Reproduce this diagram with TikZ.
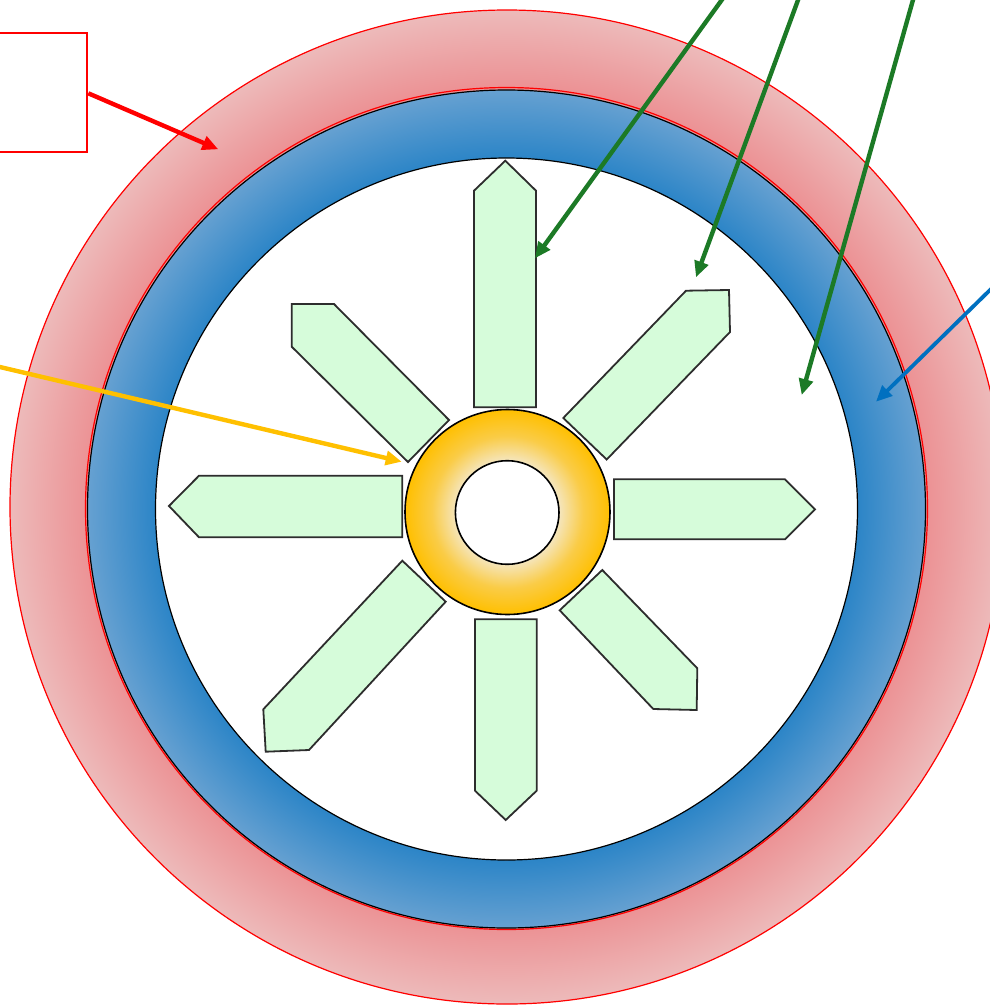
\documentclass[tikz,border=0pt]{standalone}
\usetikzlibrary{arrows.meta}
\pgfdeclareradialshading{redring}{\pgfpoint{0bp}{0bp}}{rgb(0bp)=(0.925,0.57,0.58);rgb(21.1bp)=(0.925,0.57,0.58);rgb(25bp)=(0.93,0.73,0.73);rgb(50bp)=(0.93,0.73,0.73)}
\pgfdeclareradialshading{bluering}{\pgfpoint{0bp}{0bp}}{rgb(0bp)=(0.17,0.52,0.78);rgb(20.9bp)=(0.17,0.52,0.78);rgb(25bp)=(0.40,0.63,0.82);rgb(50bp)=(0.40,0.63,0.82)}
\pgfdeclareradialshading{goldring}{\pgfpoint{0bp}{0bp}}{rgb(0bp)=(0.96,0.9,0.74);rgb(12.6bp)=(0.96,0.9,0.74);rgb(18.5bp)=(0.98,0.8,0.28);rgb(25bp)=(1,0.75,0.0);rgb(50bp)=(1,0.75,0.0)}
\definecolor{spokefill}{RGB}{214,252,218}
\definecolor{spokeline}{RGB}{45,45,45}
\definecolor{arrgreen}{RGB}{28,122,38}
\definecolor{arrblue}{RGB}{0,112,192}
\definecolor{arryellow}{RGB}{255,192,0}
\tikzset{
  spoke/.style={draw=spokeline, fill=spokefill, line width=1.8pt, line join=miter},
  ptr/.style={-{Triangle[length=16pt,width=14pt]}, line width=4.4pt},
  redbox/.style={draw=red, line width=2pt, minimum width=97pt, minimum height=119pt, inner sep=0pt}
}
\begin{document}
\begin{tikzpicture}[x=1pt,y=-1pt]
\useasboundingbox (0,0) rectangle (990,1005);
\clip (0,0) rectangle (990,1005);
% red ring
\shade[shading=redring] (507,507) circle[radius=497pt];
\draw[red, line width=1.2pt] (507,507) circle[radius=497pt];
\draw[red, line width=1.2pt] (506.5,508.5) circle[radius=421pt];
% blue ring
\shade[shading=bluering] (506.5,509) circle[radius=419pt];
\draw[black, line width=1.2pt] (506.5,509) circle[radius=419pt];
% white interior
\fill[white] (506.5,509) circle[radius=351pt];
\draw[black, line width=1.2pt] (506.5,509) circle[radius=351pt];
% spokes
\draw[spoke] (474,407.3) -- (474,190.7) -- (505.3,160.7) -- (536,190.7) -- (536,407.3) -- cycle;
\draw[spoke] (475,619.3) -- (536.7,619.3) -- (536.7,790.7) -- (505.7,820) -- (475,790.7) -- cycle;
\draw[spoke] (402.3,475.7) -- (199,475.7) -- (169,506) -- (199,537.3) -- (402.3,537.3) -- cycle;
\draw[spoke] (614,479.3) -- (785,479.3) -- (815,509.3) -- (785,539.3) -- (614,539.3) -- cycle;
\draw[spoke] (449,420) -- (334,304) -- (291.7,304) -- (291.7,346.7) -- (408,462) -- cycle;
\draw[spoke] (563.3,418) -- (686,290.7) -- (729,290) -- (730,332) -- (606.7,459.5) -- cycle;
\draw[spoke] (402.3,560.7) -- (445.7,601.7) -- (309,750) -- (265.7,751.7) -- (263.3,709.3) -- cycle;
\draw[spoke] (559.7,610.3) -- (602.3,570) -- (697.3,668.3) -- (696.7,710) -- (653.3,709) -- cycle;
% hub
\shade[shading=goldring] (507.5,512) circle[radius=102.5pt];
\draw[black, line width=1.6pt] (507.5,512) circle[radius=102.5pt];
\fill[white] (507.2,512.5) circle[radius=51.8pt];
\draw[black, line width=1.6pt] (507.2,512.5) circle[radius=51.8pt];
% label box and arrows
\node[redbox] (box) at (38.8,92) {};
\coordinate (redtip) at (218.3,149.3);
\draw[ptr, red] ([yshift=-1.3pt]box.east) -- (redtip);
\coordinate (g1s) at (736.2,-20);
\coordinate (g1t) at (535,258.3);
\coordinate (g2s) at (805.4,-20);
\coordinate (g2t) at (696,277.3);
\coordinate (g3s) at (918.6,-20);
\coordinate (g3t) at (801.7,395);
\coordinate (bs) at (1010,270.4);
\coordinate (bt) at (876,401.7);
\coordinate (ys) at (-20,362.3);
\coordinate (yt) at (401.7,461.7);
\draw[ptr, arrgreen] (g1s) -- (g1t);
\draw[ptr, arrgreen] (g2s) -- (g2t);
\draw[ptr, arrgreen] (g3s) -- (g3t);
\draw[ptr, arrblue, line width=3.8pt] (bs) -- (bt);
\draw[ptr, arryellow] (ys) -- (yt);
\end{tikzpicture}
\end{document}
